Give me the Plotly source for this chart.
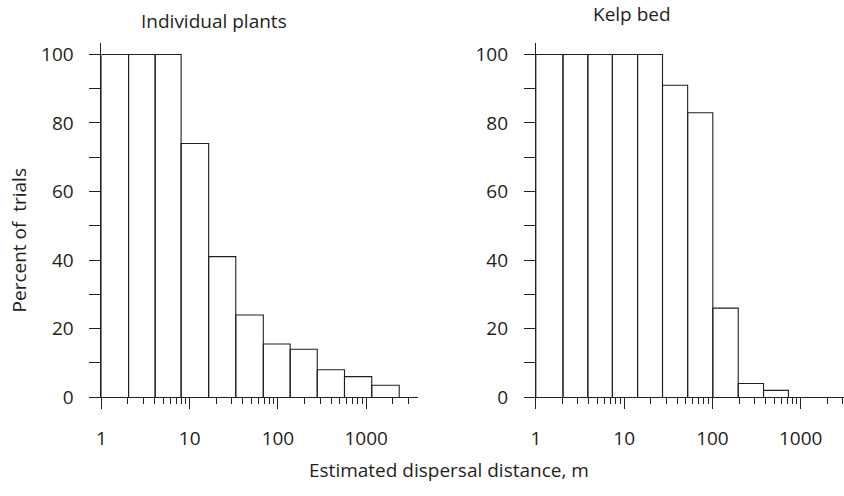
import plotly.graph_objects as go

# Bin edges (m) and percent of trials in which propagules reached each distance class
plants_edges = [1, 2.03, 4.06, 8.0, 16.4, 33.3, 68.3, 137.6, 279, 568, 1156, 2368]
plants_pct = [100, 100, 100, 74, 41, 24, 15.5, 14, 8, 6, 3.5]

kelp_edges = [1, 2.03, 3.88, 7.36, 14.2, 27.2, 52.4, 101, 196, 379, 725]
kelp_pct = [100, 100, 100, 100, 100, 91, 83, 26, 4, 2]

major_x = [1, 10, 100, 1000]
major_x_text = ["1", "10", "100", "1000"]
minor_x = [d * m for m in (1, 10, 100) for d in range(2, 10)] + [2000, 3000]
y_ticks = [0, 20, 40, 60, 80, 100]

TXT = "#231f20"
LINE = "#231f20"
FONT = "Open Sans"
FS = 19


def outline(edges, values):
    xs, ys = [], []
    for x0, x1, v in zip(edges[:-1], edges[1:], values):
        xs += [x0, x0, x1, x1, None]
        ys += [0, v, v, 0, None]
    return xs, ys


fig = go.Figure()
for edges, vals, xa, ya in [(plants_edges, plants_pct, "x", "y"),
                            (kelp_edges, kelp_pct, "x2", "y2")]:
    xs, ys = outline(edges, vals)
    fig.add_trace(go.Scatter(x=xs, y=ys, mode="lines", xaxis=xa, yaxis=ya,
                             line=dict(color=LINE, width=1.1),
                             fill="toself", fillcolor="white",
                             hoverinfo="skip", showlegend=False))

W, H = 844, 496
y_dom = [(H - 407.7) / H, (H - 43) / H]


def xaxis(dom, rng, anchor):
    return dict(type="log", domain=dom, range=rng, anchor=anchor,
                showgrid=False, zeroline=False, showline=True,
                linecolor=LINE, linewidth=1,
                tickmode="array", tickvals=major_x, ticktext=major_x_text,
                ticks="outside", ticklen=11, tickwidth=1, tickcolor=LINE,
                ticklabelstandoff=13,
                minor=dict(tickmode="array", tickvals=minor_x, ticks="outside",
                           ticklen=6, tickwidth=1, tickcolor=LINE, showgrid=False),
                tickfont=dict(family=FONT, size=FS, color=TXT))


def yaxis(anchor):
    return dict(domain=y_dom, range=[0, 103.4], anchor=anchor,
                showgrid=False, zeroline=False, showline=True,
                linecolor=LINE, linewidth=1,
                tickmode="array", tickvals=y_ticks,
                ticks="outside", ticklen=11, tickwidth=1, tickcolor=LINE,
                ticklabelstandoff=12,
                minor=dict(tickmode="linear", tick0=10, dtick=20, ticks="outside",
                           ticklen=11, tickwidth=1, tickcolor=LINE, showgrid=False),
                tickfont=dict(family=FONT, size=FS, color=TXT))


fig.update_layout(
    width=W, height=H,
    margin=dict(l=0, r=0, t=0, b=0),
    paper_bgcolor="white", plot_bgcolor="white",
    xaxis=xaxis([97 / W, 415.7 / W], [0, 3.59], "y"),
    yaxis=yaxis("x"),
    xaxis2=xaxis([534 / W, 1.0], [0, 3.49], "y2"),
    yaxis2=yaxis("x2"),
    annotations=[
        dict(text="Individual plants", x=210 / W, y=1 - 21 / H, xref="paper", yref="paper",
             xanchor="center", yanchor="middle", showarrow=False,
             font=dict(family=FONT, size=FS, color=TXT)),
        dict(text="Kelp bed", x=631 / W, y=1 - 13 / H, xref="paper", yref="paper",
             xanchor="center", yanchor="middle", showarrow=False,
             font=dict(family=FONT, size=FS, color=TXT)),
        dict(text="Estimated dispersal distance, m", x=446.5 / W, y=1 - 483 / H,
             xref="paper", yref="paper", xanchor="center", yanchor="middle",
             showarrow=False, font=dict(family=FONT, size=FS, color=TXT)),
        dict(text="Percent of  trials", x=14.5 / W, y=1 - 246 / H, xref="paper", yref="paper",
             xanchor="center", yanchor="middle", textangle=-90, showarrow=False,
             font=dict(family=FONT, size=FS, color=TXT)),
    ],
)

fig.write_html("out.html")
